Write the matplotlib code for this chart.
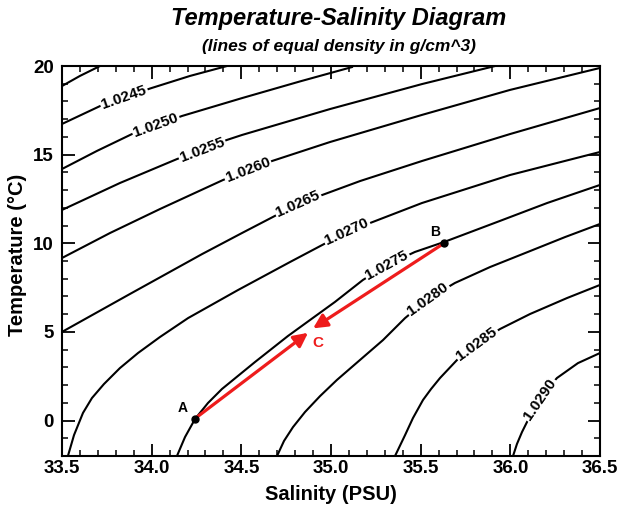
import numpy as np
import matplotlib
matplotlib.use('Agg')
from matplotlib import pyplot as plt
from matplotlib.ticker import MultipleLocator, FormatStrFormatter

plt.rcParams['font.family'] = ['Liberation Sans', 'DejaVu Sans']
plt.rcParams['font.weight'] = 'bold'

# lines of equal density as (salinity, temperature) points
s_0240 = [33.5, 33.60, 33.712]
t_0240 = [18.87, 19.44, 20.0]
s_0245 = [33.5, 33.712, 33.991, 34.214, 34.420]
t_0245 = [16.73, 17.74, 18.73, 19.44, 20.0]
s_0250 = [33.5, 33.695, 33.890, 34.169, 34.504, 34.827, 35.117]
t_0250 = [14.19, 15.21, 16.16, 17.18, 18.19, 19.13, 19.94]
s_0255 = [33.5, 33.823, 34.141, 34.420, 34.504, 34.994, 35.507, 35.915]
t_0255 = [11.88, 13.40, 14.75, 15.83, 16.11, 17.57, 18.98, 20.0]
s_0260 = [33.5, 33.768, 34.046, 34.398, 34.671, 34.994, 35.507, 35.998, 36.5]
t_0260 = [9.17, 10.58, 11.93, 13.57, 14.64, 15.71, 17.24, 18.65, 19.89]
s_0265 = [33.5, 33.879, 34.281, 34.504, 34.816, 35.162, 35.507, 35.998, 36.5]
t_0265 = [5.00, 7.14, 9.39, 10.58, 12.22, 13.51, 14.64, 16.16, 17.63]
s_0270 = [33.533, 33.567, 33.617, 33.667, 33.734, 33.823, 33.924, 34.046, 34.203,
          34.481, 34.771, 35.089, 35.507, 35.998, 36.5]
t_0270 = [-2.0, -0.82, 0.43, 1.27, 2.06, 2.96, 3.81, 4.71, 5.78, 7.36, 8.94, 10.64,
          12.27, 13.85, 15.15]
s_0275 = [34.141, 34.186, 34.242, 34.314, 34.392, 34.576, 34.760, 35.022, 35.178,
          35.312, 35.468, 35.630, 35.942, 36.205, 36.5]
t_0275 = [-2.0, -0.93, 0.09, 0.99, 1.78, 3.30, 4.77, 6.69, 7.93, 8.77, 9.51, 10.07,
          11.26, 12.27, 13.29]
s_0280 = [34.699, 34.738, 34.788, 34.855, 34.939, 35.033, 35.162, 35.290, 35.413,
          35.541, 35.691, 35.887, 36.110, 36.305, 36.5]
t_0280 = [-2.0, -1.15, -0.37, 0.48, 1.38, 2.29, 3.42, 4.54, 5.78, 6.86, 7.76, 8.66,
          9.56, 10.35, 11.09]
s_0285 = [35.357, 35.413, 35.457, 35.513, 35.558, 35.608, 35.703, 35.814, 35.942,
          36.110, 36.316, 36.5]
t_0285 = [-2.0, -0.82, 0.14, 1.16, 1.78, 2.40, 3.42, 4.32, 5.16, 6.01, 6.91, 7.65]
s_0290 = [36.015, 36.037, 36.065, 36.126, 36.193, 36.260, 36.377, 36.5]
t_0290 = [-2.0, -1.32, -0.65, 0.59, 1.61, 2.40, 3.24, 3.81]

labels = ['1.0240', '1.0245', '1.0250', '1.0255', '1.0260', '1.0265',
          '1.0270', '1.0275', '1.0280', '1.0285', '1.0290']
# salinity where each line carries its label (the first one has none)
label_s = [None, 33.846, 34.024, 34.281, 34.537, 34.816,
           35.089, 35.312, 35.541, 35.814, 36.165]

# water masses A and B, and where the two arrows end near the mix C
point_names = ['A', 'B']
point_s = [34.24, 35.63]
point_t = [0.10, 10.0]
tip_s = [34.872, 34.900]
tip_t = [4.95, 5.20]
mix_s, mix_t = 34.928, 4.37

lines = [(s_0240, t_0240), (s_0245, t_0245), (s_0250, t_0250), (s_0255, t_0255),
         (s_0260, t_0260), (s_0265, t_0265), (s_0270, t_0270), (s_0275, t_0275),
         (s_0280, t_0280), (s_0285, t_0285), (s_0290, t_0290)]

red = '#ee1c1c'

fig = plt.figure(figsize=(6.17, 5.09), dpi=100)
ax = fig.add_axes([62 / 617, 1 - 456 / 509, 538 / 617, 390 / 509])
ax.set_xlim(33.5, 36.5)
ax.set_ylim(-2, 20)

for (s, t), lab, s0 in zip(lines, labels, label_s):
    ax.plot(s, t, color='black', lw=1.5, zorder=2, solid_joinstyle='round')
    if s0 is None:
        continue
    t0 = np.interp(s0, s, t)
    p1 = ax.transData.transform((s0 - 0.04, np.interp(s0 - 0.04, s, t)))
    p2 = ax.transData.transform((s0 + 0.04, np.interp(s0 + 0.04, s, t)))
    ang = np.degrees(np.arctan2(p2[1] - p1[1], p2[0] - p1[0]))
    ax.text(s0, t0, lab, rotation=ang, rotation_mode='anchor', ha='center', va='center',
            fontsize=11, fontweight='bold', zorder=3,
            bbox=dict(boxstyle='square,pad=0.1', fc='white', ec='none'))

for i in range(2):
    ax.annotate('', xy=(tip_s[i], tip_t[i]), xytext=(point_s[i], point_t[i]),
                arrowprops=dict(arrowstyle='-|>,head_length=0.6,head_width=0.3',
                                color=red, lw=2.3, shrinkA=0, shrinkB=0,
                                mutation_scale=14), zorder=4)
ax.plot(point_s, point_t, 'o', color='black', ms=5, zorder=5)
ax.annotate(point_names[0], (point_s[0], point_t[0]), xytext=(-9, 8),
            textcoords='offset points', ha='center', va='center',
            fontsize=10, fontweight='bold')
ax.annotate(point_names[1], (point_s[1], point_t[1]), xytext=(-6.5, 8),
            textcoords='offset points', ha='center', va='center',
            fontsize=10, fontweight='bold')
ax.text(mix_s, mix_t, 'C', color=red, ha='center', va='center', fontsize=11,
        fontweight='bold')

ax.xaxis.set_major_locator(MultipleLocator(0.5))
ax.xaxis.set_minor_locator(MultipleLocator(0.1))
ax.yaxis.set_major_locator(MultipleLocator(5))
ax.yaxis.set_minor_locator(MultipleLocator(1))
ax.xaxis.set_major_formatter(FormatStrFormatter('%.1f'))
ax.tick_params(which='both', direction='in', top=True, right=True, labelsize=13.5)
ax.tick_params(which='major', length=9, width=1.3)
ax.tick_params(which='minor', length=4.5, width=1.1)
ax.tick_params(axis='x', pad=3)
ax.tick_params(axis='y', pad=6)
for sp in ax.spines.values():
    sp.set_linewidth(1.5)

fig.text(0.549, 1 - 19 / 509, 'Temperature-Salinity Diagram', ha='center', va='center',
         fontsize=17, fontweight='bold', style='italic')
fig.text(0.549, 1 - 47 / 509, '(lines of equal density in g/cm^3)', ha='center', va='center',
         fontsize=12.5, fontweight='bold', style='italic')
fig.text(331 / 617, 1 - 494 / 509, 'Salinity (PSU)', ha='center', va='center',
         fontsize=14.5, fontweight='bold')
fig.text(18 / 617, 0.5, 'Temperature (°C)', ha='center', va='center', rotation=90,
         fontsize=14.5, fontweight='bold')

fig.savefig('out.png', dpi=100)
